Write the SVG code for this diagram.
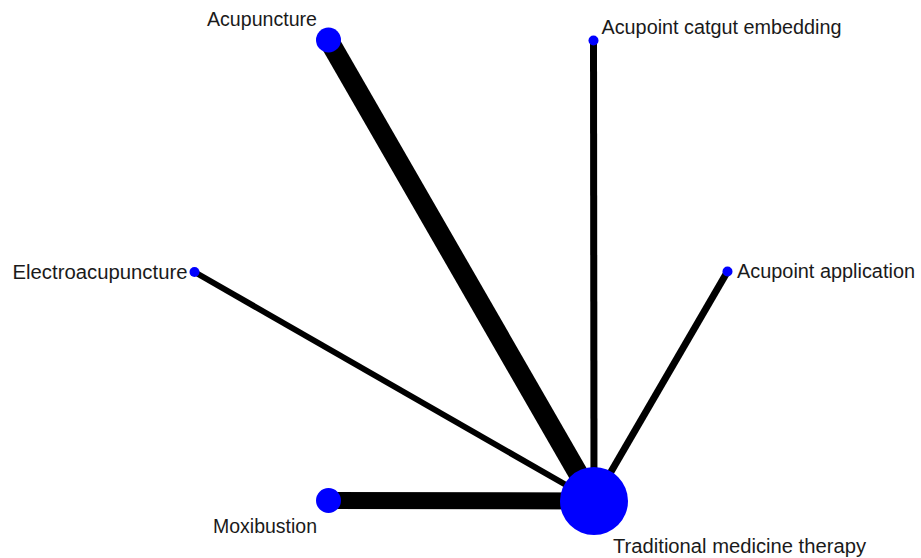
<svg xmlns="http://www.w3.org/2000/svg" width="921" height="558" viewBox="0 0 921 558">
  <style>
    .edge { stroke: #000; stroke-linecap: butt; fill: none; }
    .node { fill: #0000ff; }
    .label { font-family: "Liberation Sans", Arial, sans-serif; font-size: 20px; fill: #1a1a1a; }
  </style>
  <rect width="921" height="558" fill="#fff"/>
  <!-- connectors: line width scales with number of comparisons -->
  <g id="edges">
    <line class="edge" x1="594" y1="501" x2="328.5" y2="40" stroke-width="20"/>
    <line class="edge" x1="594" y1="501" x2="593.5" y2="40.5" stroke-width="7"/>
    <line class="edge" x1="594" y1="501" x2="194.5" y2="272" stroke-width="6"/>
    <line class="edge" x1="594" y1="501" x2="727.5" y2="271.5" stroke-width="7"/>
    <line class="edge" x1="594" y1="501" x2="328.5" y2="500.5" stroke-width="17"/>
  </g>
  <!-- nodes: circle area scales with sample size -->
  <g id="node-acupuncture">
    <circle class="node" cx="328.5" cy="40" r="12.5"/>
    <text class="label" x="207" y="26" textLength="110" lengthAdjust="spacingAndGlyphs">Acupuncture</text>
  </g>
  <g id="node-catgut">
    <circle class="node" cx="593.5" cy="40.5" r="5"/>
    <text class="label" x="601.5" y="34" textLength="240" lengthAdjust="spacingAndGlyphs">Acupoint catgut embedding</text>
  </g>
  <g id="node-electroacupuncture">
    <circle class="node" cx="194.5" cy="272" r="5"/>
    <text class="label" x="12.5" y="279" textLength="175" lengthAdjust="spacingAndGlyphs">Electroacupuncture</text>
  </g>
  <g id="node-application">
    <circle class="node" cx="727.5" cy="271.5" r="5"/>
    <text class="label" x="737" y="278" textLength="178" lengthAdjust="spacingAndGlyphs">Acupoint application</text>
  </g>
  <g id="node-moxibustion">
    <circle class="node" cx="328.5" cy="500.5" r="12.5"/>
    <text class="label" x="213" y="533" textLength="104" lengthAdjust="spacingAndGlyphs">Moxibustion</text>
  </g>
  <g id="node-tmt">
    <circle class="node" cx="594" cy="501" r="34"/>
    <text class="label" x="613" y="553" textLength="253" lengthAdjust="spacingAndGlyphs">Traditional medicine therapy</text>
  </g>
</svg>
